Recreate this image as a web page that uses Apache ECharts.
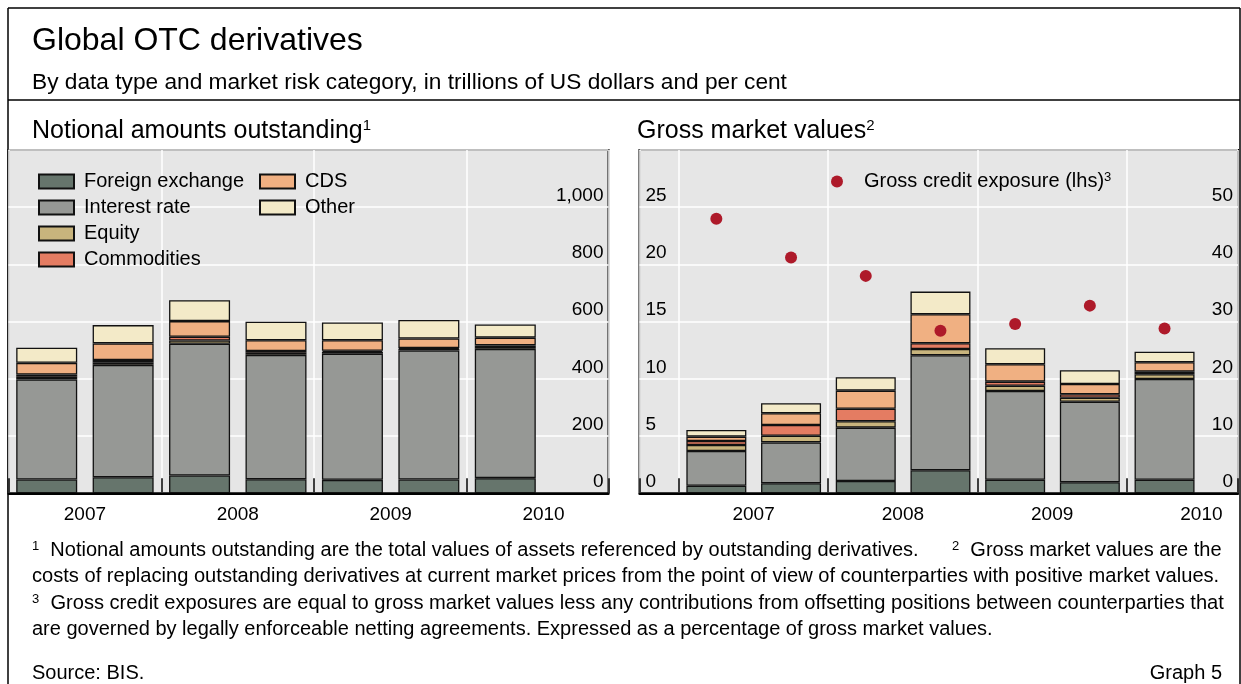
<!DOCTYPE html>
<html>
<head>
<meta charset="utf-8">
<script src="https://cdn.jsdelivr.net/npm/echarts@6/dist/echarts.min.js"></script>
<style>
  html, body { margin: 0; padding: 0; background: #fff; }
  #chart { width: 1241px; height: 684px; }
</style>
</head>
<body>
<div id="chart"></div>
<script>
// half-year observations (end-June, end-December)
const periods = ['Jun 2007', 'Dec 2007', 'Jun 2008', 'Dec 2008', 'Jun 2009', 'Dec 2009', 'Jun 2010'];
const riskNames = ['Foreign exchange', 'Interest rate', 'Equity', 'Commodities', 'CDS', 'Other'];
const riskColors = ['#66756c', '#969895', '#c8b47d', '#e47c62', '#f0b082', '#f3eac8'];

// notional amounts outstanding, USD trn
const notionalFx = [48, 56, 62, 49, 47, 48, 53];
const notionalIr = [350, 393, 461, 435, 441, 451, 452];
const notionalEquity = [9, 9, 11, 7, 6, 6, 6];
const notionalCommod = [8, 8, 13, 6, 4, 3, 6];
const notionalCds = [41, 58, 55, 38, 37, 33, 27];
const notionalOther = [53, 64, 73, 65, 62, 65, 46];

// gross market values, USD trn
const grossFx = [1.33, 1.75, 2.15, 4.02, 2.38, 1.92, 2.38];
const grossIr = [6.07, 7.15, 9.32, 20.11, 15.5, 14.09, 17.6];
const grossEquity = [1.04, 1.17, 1.12, 1.10, 0.93, 0.70, 0.82];
const grossCommod = [0.70, 1.87, 2.20, 0.99, 0.70, 0.60, 0.46];
const grossCds = [0.76, 2.04, 3.15, 5.07, 3.04, 1.80, 1.64];
const grossOther = [1.17, 1.75, 2.34, 3.96, 2.80, 2.39, 1.86];

// gross credit exposure, % of gross market values (lhs)
const creditExposure = [24.0, 20.6, 19.0, 14.2, 14.8, 16.4, 14.4];

const notional = [notionalFx, notionalIr, notionalEquity, notionalCommod, notionalCds, notionalOther];
const gross = [grossFx, grossIr, grossEquity, grossCommod, grossCds, grossOther];

const FONT = 'Liberation Sans, Arial, sans-serif';
const chart = echarts.init(document.getElementById('chart'));

// year axis: label only the mid-year ticks
function yearLabel(v) {
  const f = v - Math.floor(v);
  return Math.abs(f - 0.5) < 1e-6 ? String(Math.floor(v)) : '';
}

const series = [];
riskNames.forEach((name, k) => {
  series.push({
    name: name, type: 'bar', stack: 'notional',
    xAxisIndex: 4, yAxisIndex: 3, barWidth: 61,
    itemStyle: { color: riskColors[k], borderColor: '#111', borderWidth: 1.3 },
    data: notional[k]
  });
});
riskNames.forEach((name, k) => {
  series.push({
    name: name, type: 'bar', stack: 'gross',
    xAxisIndex: 5, yAxisIndex: 5, barWidth: 60,
    itemStyle: { color: riskColors[k], borderColor: '#111', borderWidth: 1.3 },
    data: gross[k]
  });
});
series.push({
  name: 'Gross credit exposure (lhs)', type: 'scatter',
  xAxisIndex: 5, yAxisIndex: 4, symbolSize: 12, z: 4,
  itemStyle: { color: '#ae1a2a', opacity: 1 },
  data: creditExposure
});

const txt = { fontFamily: FONT, color: '#000', fontWeight: 'normal' };
const labelStyle = { fontFamily: FONT, color: '#000', fontSize: 19 };
const supRich = size => ({ fontSize: size, lineHeight: size, verticalAlign: 'top', fontFamily: FONT, color: '#000' });

function textTitle(text, left, top, size, extra) {
  return Object.assign({ text: text, left: left, top: top, padding: 0,
    textStyle: Object.assign({ fontSize: size, lineHeight: size }, txt) }, extra || {});
}

const hiddenAxis = { show: false };

const option = {
  animation: false,
  textStyle: { fontFamily: FONT },
  title: [
    textTitle('Global OTC derivatives', 32, 25, 32),
    textTitle('By data type and market risk category, in trillions of US dollars and per cent', 32, 71, 22.7),
    { text: '{a|Notional amounts outstanding}{s|1}', left: 32, top: 118.5, padding: 0,
      textStyle: Object.assign({ fontSize: 25, rich: { a: Object.assign({ fontSize: 25, lineHeight: 26 }, txt), s: supRich(15) } }, txt) },
    { text: '{a|Gross market values}{s|2}', left: 637, top: 118.5, padding: 0,
      textStyle: Object.assign({ fontSize: 25, rich: { a: Object.assign({ fontSize: 25, lineHeight: 26 }, txt), s: supRich(15) } }, txt) },
    { text: '{s|1}{t|  Notional amounts outstanding are the total values of assets referenced by outstanding derivatives.      }{s|2}{t|  Gross market values are the}',
      left: 32, top: 540, padding: 0,
      textStyle: Object.assign({ fontSize: 20, rich: { t: Object.assign({ fontSize: 20, lineHeight: 21 }, txt), s: supRich(13) } }, txt) },
    textTitle('costs of replacing outstanding derivatives at current market prices from the point of view of counterparties with positive market values.', 32, 566, 20.1),
    { text: '{s|3}{t|  Gross credit exposures are equal to gross market values less any contributions from offsetting positions between counterparties that}',
      left: 32, top: 593, padding: 0,
      textStyle: Object.assign({ fontSize: 20, rich: { t: Object.assign({ fontSize: 20.1, lineHeight: 21 }, txt), s: supRich(13) } }, txt) },
    textTitle('are governed by legally enforceable netting agreements. Expressed as a percentage of gross market values.', 32, 619, 20),
    textTitle('Source: BIS.', 32, 663, 20),
    textTitle('Graph 5', 0, 663, 20, { left: null, right: 19 })
  ],
  legend: [
    { data: riskNames.slice(0, 4), left: 38, top: 171.5, orient: 'vertical', icon: 'rect',
      itemWidth: 35, itemHeight: 14, itemGap: 6, selectedMode: false, padding: 0,
      textStyle: { fontFamily: FONT, color: '#000', fontSize: 20, lineHeight: 20, padding: [0, 0, 0, 5] } },
    { data: riskNames.slice(4), left: 259, top: 171.5, orient: 'vertical', icon: 'rect',
      itemWidth: 35, itemHeight: 14, itemGap: 6, selectedMode: false, padding: 0,
      textStyle: { fontFamily: FONT, color: '#000', fontSize: 20, lineHeight: 20, padding: [0, 0, 0, 5] } },
    { data: ['Gross credit exposure (lhs)'], left: 831, top: 171, icon: 'circle',
      itemWidth: 12, itemHeight: 12, selectedMode: false, padding: 0,
      formatter: '{a|Gross credit exposure (lhs)}{s|3}',
      textStyle: { fontFamily: FONT, color: '#000', fontSize: 20,
        rich: { a: { fontSize: 20, lineHeight: 21, padding: [0, 0, 0, 16], fontFamily: FONT, color: '#000' },
                s: supRich(13) } } }
  ],
  grid: [
    // visible plot panels
    { left: 8.5, top: 150, width: 600, height: 343.3, show: true,
      backgroundColor: '#e6e6e6', borderColor: '#000', borderWidth: 2 },
    { left: 639.5, top: 150, width: 599, height: 343.3, show: true,
      backgroundColor: '#e6e6e6', borderColor: '#000', borderWidth: 2 },
    // half-year slots for the bars (2007 H1 .. 2010 H1)
    { left: 8.5, top: 150, width: 535, height: 343.3 },
    { left: 679, top: 150, width: 522.9, height: 343.3 }
  ],
  xAxis: [
    { type: 'value', gridIndex: 0, position: 'bottom', min: 2007, max: 2010.925, interval: 1, z: 3,
      axisLine: { lineStyle: { color: '#000', width: 2 } },
      axisTick: { inside: true, length: 15, lineStyle: { color: '#000', width: 1.5 } },
      splitLine: { show: true, lineStyle: { color: '#fff', width: 1.5 } },
      axisLabel: { show: false } },
    { type: 'value', gridIndex: 0, position: 'bottom', min: 2007, max: 2010.925, interval: 0.5,
      axisLine: { show: false }, axisTick: { show: false }, splitLine: { show: false },
      axisLabel: Object.assign({ margin: 12, formatter: yearLabel }, labelStyle) },
    { type: 'value', gridIndex: 1, position: 'bottom', min: 2006.7356, max: 2010.745, splitNumber: 4, z: 3,
      axisLine: { lineStyle: { color: '#000', width: 2 } },
      axisTick: { inside: true, length: 15, lineStyle: { color: '#000', width: 1.5 } },
      splitLine: { show: true, lineStyle: { color: '#fff', width: 1.5 } },
      axisLabel: { show: false } },
    { type: 'value', gridIndex: 1, position: 'bottom', min: 2006.7356, max: 2010.745, splitNumber: 8,
      axisLine: { show: false }, axisTick: { show: false }, splitLine: { show: false },
      axisLabel: Object.assign({ margin: 12, formatter: yearLabel }, labelStyle) },
    Object.assign({ type: 'category', gridIndex: 2, data: periods }, hiddenAxis),
    Object.assign({ type: 'category', gridIndex: 3, data: periods }, hiddenAxis)
  ],
  yAxis: [
    { type: 'value', gridIndex: 0, position: 'right', min: 0, max: 1200, interval: 200,
      axisLine: { show: false }, axisTick: { show: false },
      splitLine: { show: true, lineStyle: { color: '#fff', width: 1.5 } },
      axisLabel: Object.assign({ inside: true, margin: 5, verticalAlign: 'bottom', padding: [0, 0, 2, 0],
        formatter: v => v === 1200 ? '' : v.toLocaleString('en-US') }, labelStyle) },
    { type: 'value', gridIndex: 1, position: 'left', min: 0, max: 30, interval: 5,
      axisLine: { show: false }, axisTick: { show: false },
      splitLine: { show: true, lineStyle: { color: '#fff', width: 1.5 } },
      axisLabel: Object.assign({ inside: true, margin: 6, verticalAlign: 'bottom', padding: [0, 0, 2, 0],
        formatter: v => v === 30 ? '' : String(v) }, labelStyle) },
    { type: 'value', gridIndex: 1, position: 'right', min: 0, max: 60, interval: 10,
      axisLine: { show: false }, axisTick: { show: false }, splitLine: { show: false },
      axisLabel: Object.assign({ inside: true, margin: 5, verticalAlign: 'bottom', padding: [0, 0, 2, 0],
        formatter: v => v === 60 ? '' : String(v) }, labelStyle) },
    Object.assign({ type: 'value', gridIndex: 2, min: 0, max: 1200 }, hiddenAxis),
    Object.assign({ type: 'value', gridIndex: 3, min: 0, max: 30 }, hiddenAxis),
    Object.assign({ type: 'value', gridIndex: 3, min: 0, max: 60 }, hiddenAxis)
  ],
  graphic: [
    { type: 'line', shape: { x1: 8, y1: 8, x2: 1240, y2: 8 }, style: { stroke: '#000', lineWidth: 1.5 } },
    { type: 'line', shape: { x1: 8, y1: 100, x2: 1240, y2: 100 }, style: { stroke: '#000', lineWidth: 1.5 } },
    { type: 'line', shape: { x1: 8, y1: 8, x2: 8, y2: 684 }, style: { stroke: '#000', lineWidth: 1.5 } },
    { type: 'line', shape: { x1: 1240, y1: 8, x2: 1240, y2: 684 }, style: { stroke: '#000', lineWidth: 1.5 } }
  ],
  series: series
};

chart.setOption(option);
</script>
</body>
</html>
